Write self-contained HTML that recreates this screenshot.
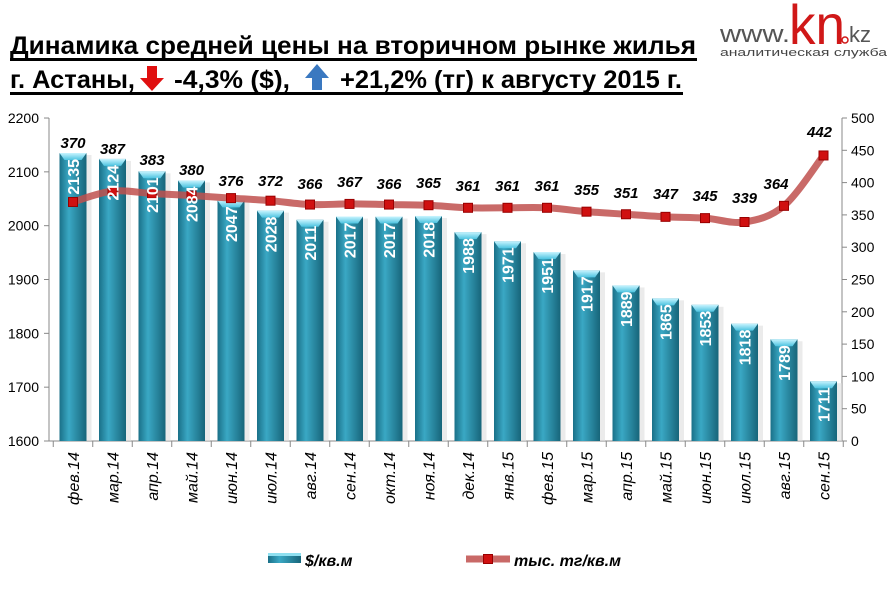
<!DOCTYPE html><html><head><meta charset="utf-8"><style>body{margin:0;background:#fff}svg{display:block}text{font-family:"Liberation Sans",sans-serif}</style></head><body>
<svg id="s" width="887" height="591" xmlns="http://www.w3.org/2000/svg">
<defs>
<linearGradient id="bg" x1="0" x2="1" y1="0" y2="0"><stop offset="0" stop-color="#1a7088"/><stop offset="0.35" stop-color="#3aa8c4"/><stop offset="1" stop-color="#17657a"/></linearGradient>
<linearGradient id="tp" x1="0" x2="0" y1="0" y2="1"><stop offset="0" stop-color="#c8f4ff"/><stop offset="1" stop-color="#4cc3e0"/></linearGradient>
</defs>
<g font-family="Liberation Sans Narrow, Liberation Sans, sans-serif" font-weight="bold" fill="#000">
<text x="10" y="54" font-size="25" textLength="686" lengthAdjust="spacingAndGlyphs">Динамика средней  цены на вторичном рынке жилья</text>
<rect x="10" y="58" width="687" height="3"/>
<text x="10" y="88" font-size="25" textLength="125" lengthAdjust="spacingAndGlyphs">г. Астаны,</text>
<text x="174" y="88" font-size="25" textLength="116" lengthAdjust="spacingAndGlyphs">-4,3% ($),</text>
<text x="340" y="88" font-size="25" textLength="342" lengthAdjust="spacingAndGlyphs">+21,2% (тг) к августу 2015 г.</text>
<rect x="10" y="92" width="673" height="3"/>
</g>
<polygon points="147,66 157,66 157,78 164,78 152,91 140,78 147,78" fill="#e01010"/>
<polygon points="312,90 322,90 322,78 329,78 317,64 305,78 312,78" fill="#3a78c0"/>
<text x="720" y="42" font-size="24" fill="#555" textLength="70" lengthAdjust="spacingAndGlyphs">www.</text>
<text x="789" y="44" font-size="56" fill="#d01818" textLength="56" lengthAdjust="spacingAndGlyphs">kn</text>
<circle cx="845" cy="40" r="3" fill="none" stroke="#d01818" stroke-width="1.5"/>
<text x="849" y="42" font-size="22" fill="#555">kz</text>
<text x="720" y="56" font-size="11" fill="#444" textLength="167" lengthAdjust="spacingAndGlyphs">аналитическая служба</text>
<g id="g"></g>
</svg>
<script>
var bars=[2135,2124,2101,2084,2047,2028,2011,2017,2017,2018,1988,1971,1951,1917,1889,1865,1853,1818,1789,1711];
var line=[370,387,383,380,376,372,366,367,366,365,361,361,361,355,351,347,345,339,364,442];
var ly=[143,149,160,170,181,181,184,182,184,183,186,186,186,190,193,194,196,198,184,132];
var lx=[0,0,0,0,0,0,0,0,0,0,0,0,0,0,0,0,0,0,-8,-4];
var cats=["фев.14","мар.14","апр.14","май.14","июн.14","июл.14","авг.14","сен.14","окт.14","ноя.14","дек.14","янв.15","фев.15","мар.15","апр.15","май.15","июн.15","июл.15","авг.15","сен.15"];
var h='',bt='';
function cx(i){return 73+39.5*i;}
function by(v){return 441-(v-1600)*0.5383;}
function ry(v){return 441-v*0.646;}
h+='<line x1="49" y1="118" x2="49" y2="441" stroke="#888"/><line x1="842" y1="118" x2="842" y2="441" stroke="#888"/><line x1="49" y1="441" x2="842" y2="441" stroke="#888"/>';
for(var k=0;k<=6;k++){var y=441-k*53.83;h+='<line x1="44" x2="49" y1="'+y+'" y2="'+y+'" stroke="#888"/><text x="39" y="'+(y+5)+'" font-size="14" text-anchor="end">'+(1600+k*100)+'</text>';}
for(var k=0;k<=10;k++){var y=441-k*32.3;h+='<line x1="842" x2="847" y1="'+y+'" y2="'+y+'" stroke="#888"/><text x="851" y="'+(y+5)+'" font-size="14">'+(k*50)+'</text>';}
for(var i=0;i<=20;i++){var x=53.25+39.5*i;h+='<line x1="'+x+'" x2="'+x+'" y1="441" y2="447" stroke="#888"/>';}
for(var i=0;i<20;i++){var x=cx(i)-13.5,t=by(bars[i]);
h+='<rect x="'+(x+3)+'" y="'+(t+2)+'" width="29" height="'+(441-t-2)+'" fill="#ddd" opacity="0.6"/>';
h+='<rect x="'+x+'" y="'+t+'" width="27" height="'+(441-t)+'" fill="url(#bg)"/>';
h+='<polygon points="'+x+','+t+' '+(x+27)+','+t+' '+(x+22)+','+(t+7)+' '+(x+5)+','+(t+7)+'" fill="url(#tp)"/>';
bt+='<text transform="translate('+(cx(i)+6)+','+(t+6)+') rotate(-90)" text-anchor="end" font-size="16" font-weight="bold" fill="#fff">'+bars[i]+'</text>';
h+='<text transform="translate('+(cx(i)+6)+',452) rotate(-90)" text-anchor="end" font-size="16" font-style="italic">'+cats[i]+'</text>';}
var p=line.map(function(v,i){return [cx(i),ry(v)];});
var d='M'+p[0][0]+','+p[0][1];
for(var i=0;i<p.length-1;i++){var a=p[i>0?i-1:0],b=p[i],c=p[i+1],e=p[i+2<p.length?i+2:i+1];
d+=' C'+(b[0]+(c[0]-a[0])/6)+','+(b[1]+(c[1]-a[1])/6)+' '+(c[0]-(e[0]-b[0])/6)+','+(c[1]-(e[1]-b[1])/6)+' '+c[0]+','+c[1];}
h+='<path d="'+d+'" fill="none" stroke="#c0504d" stroke-width="7" opacity="0.85" stroke-linecap="round"/>';
for(var i=0;i<20;i++){h+='<rect x="'+(p[i][0]-4.5)+'" y="'+(p[i][1]-4.5)+'" width="9" height="9" fill="#d01010" stroke="#900" stroke-width="1"/>';
h+='<text x="'+(cx(i)+lx[i])+'" y="'+(ly[i]+5)+'" text-anchor="middle" font-size="15" font-weight="bold" font-style="italic">'+line[i]+'</text>';}
h+=bt;
h+='<rect x="268" y="553" width="33" height="10" fill="url(#bg)"/><rect x="268" y="553" width="33" height="3" fill="#8fe0f0"/>';
h+='<text x="305" y="566" font-size="16" font-weight="bold" font-style="italic">$/кв.м</text>';
h+='<line x1="466" y1="559" x2="510" y2="559" stroke="#c0504d" stroke-width="7" opacity="0.85"/><rect x="483.5" y="554.5" width="9" height="9" fill="#d01010" stroke="#900"/>';
h+='<text x="514" y="566" font-size="16" font-weight="bold" font-style="italic">тыс. тг/кв.м</text>';
document.getElementById('g').innerHTML=h;
</script>
</body></html>
